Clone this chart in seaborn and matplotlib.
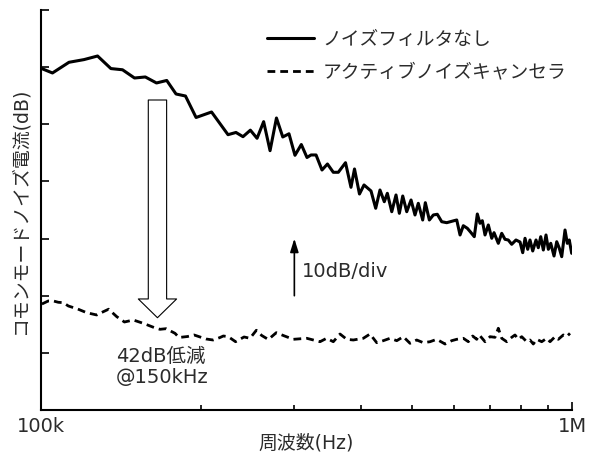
import numpy as np
import pandas as pd
import matplotlib
matplotlib.use("Agg")
import matplotlib.pyplot as plt
from matplotlib.ticker import NullFormatter, NullLocator
import seaborn as sns

# Common-mode noise current spectrum, 100 kHz - 1 MHz (frequency in kHz, level in dB)
freq_nofilter = [
    100.0, 105.1, 112.9, 120.5, 127.8, 135.4, 142.4, 150.0, 157.2, 165.0,
    172.5, 179.6, 187.1, 195.9, 209.5, 225.0, 232.9, 240.1, 247.9, 255.2,
    262.6, 270.0, 277.6, 285.3, 293.1, 300.8, 309.2, 316.9, 322.5, 329.6,
    338.2, 346.3, 355.2, 363.0, 374.5, 383.5, 389.4, 397.9, 405.8, 418.3,
    426.9, 434.9, 443.1, 449.0, 457.7, 466.2, 473.0, 480.0, 488.4, 497.6,
    506.2, 513.5, 523.4, 529.4, 538.7, 548.1, 557.6, 568.4, 580.8, 599.6,
    606.6, 615.4, 624.2, 635.1, 644.6, 654.6, 663.3, 671.0, 677.8, 685.8,
    695.7, 706.1, 713.1, 726.5, 737.3, 747.9, 758.6, 769.9, 784.3, 798.2,
    807.6, 815.7, 825.3, 833.5, 843.4, 855.5, 864.0, 873.2, 883.1, 893.4,
    902.5, 911.9, 925.0, 935.9, 946.5, 956.4, 970.2, 979.8, 988.3, 998.6,
]
level_nofilter = [
    59.80, 58.98, 60.85, 61.32, 61.95, 59.75, 59.54, 58.10, 58.28, 57.23,
    57.67, 55.30, 54.95, 51.19, 52.15, 48.18, 48.57, 47.83, 48.97, 47.55,
    50.46, 45.38, 51.10, 47.78, 48.34, 44.57, 46.46, 44.19, 44.63, 44.63,
    42.00, 43.05, 41.60, 41.60, 43.28, 38.97, 42.18, 37.80, 39.38, 38.33,
    35.30, 38.50, 36.45, 37.92, 34.70, 37.63, 34.42, 37.45, 34.70, 36.75,
    34.13, 36.17, 33.25, 36.28, 33.25, 34.13, 34.25, 32.95, 32.78, 33.13,
    33.25, 30.63, 32.25, 31.80, 31.10, 30.33, 34.30, 32.67, 33.13, 30.63,
    32.38, 30.05, 31.03, 29.17, 30.92, 29.87, 29.75, 29.00, 29.75, 29.40,
    27.53, 30.05, 28.12, 29.75, 27.83, 29.75, 28.40, 30.33, 28.00, 30.63,
    28.12, 29.17, 26.95, 29.45, 28.30, 26.83, 31.50, 29.17, 29.75, 27.42,
]

freq_canceller = [
    100.4, 103.2, 105.5, 107.8, 110.2, 112.6, 117.2, 121.9, 127.3, 131.0,
    134.1, 138.9, 143.6, 149.2, 155.8, 163.2, 167.5, 172.0, 178.8, 181.9,
    188.8, 194.2, 204.5, 210.9, 217.4, 220.5, 225.3, 232.5, 241.2, 247.5,
    254.4, 260.4, 268.0, 277.4, 286.8, 298.6, 316.5, 335.3, 345.1, 355.2,
    365.7, 376.5, 387.4, 404.6, 416.5, 422.5, 428.8, 441.2, 454.3, 467.7,
    481.2, 495.4, 510.0, 524.8, 540.3, 556.2, 576.6, 593.5, 606.6, 624.2,
    637.9, 650.1, 661.5, 669.0, 685.8, 700.9, 716.1, 726.5, 737.3, 753.5,
    769.9, 781.0, 792.4, 804.1, 821.7, 833.5, 845.5, 858.1, 876.9, 896.3,
    909.2, 929.0, 942.3, 962.9, 977.2, 991.3,
]
level_canceller = [
    18.55, 19.08, 19.08, 18.85, 18.78, 18.20, 17.68, 17.03, 16.63, 17.20,
    17.64, 16.33, 15.40, 15.75, 15.17, 14.44, 14.12, 14.23, 13.42, 12.69,
    12.86, 13.13, 12.43, 12.25, 12.69, 12.95, 12.83, 11.95, 12.78, 12.55,
    13.95, 13.04, 12.34, 13.53, 12.99, 12.37, 12.55, 11.95, 12.55, 11.95,
    13.30, 12.37, 12.25, 12.55, 13.30, 12.55, 11.78, 12.13, 12.55, 12.13,
    12.83, 11.67, 12.25, 11.78, 11.95, 12.37, 11.55, 12.13, 12.37, 12.55,
    11.95, 12.95, 12.37, 13.13, 11.95, 12.83, 12.72, 14.30, 12.55, 11.95,
    12.72, 13.13, 12.37, 12.83, 11.95, 12.25, 11.55, 12.37, 11.95, 12.55,
    11.95, 12.83, 12.37, 13.13, 12.83, 13.42,
]

series_labels = ["ノイズフィルタなし", "アクティブノイズキャンセラ"]
xtick_values = [100e3, 1e6]
xtick_labels = ["100k", "1M"]
ytick_values = [10, 20, 30, 40, 50, 60, 70]

# Reduction marker (hollow arrow) and scale marker
reduction_freq = 165.7e3
reduction_from, reduction_to = 54.25, 16.15
scale_freq = 300e3
scale_from, scale_to = 20.0, 30.0

sns.set_theme(style="ticks")
plt.rcParams["font.family"] = ["DejaVu Sans", "Noto Sans CJK JP"]
plt.rcParams["axes.unicode_minus"] = False

TEXT = "#2b2b2b"

df_nf = pd.DataFrame({"freq": np.array(freq_nofilter) * 1e3, "level": level_nofilter})
df_ac = pd.DataFrame({"freq": np.array(freq_canceller) * 1e3, "level": level_canceller})

fig = plt.figure(figsize=(5.89, 4.55), dpi=100)
ax = fig.add_axes([41 / 589, 45 / 455, 531 / 589, 400 / 455])

sns.lineplot(data=df_nf, x="freq", y="level", ax=ax, color="black", lw=2.2,
             estimator=None, sort=False, errorbar=None, label=series_labels[0])
sns.lineplot(data=df_ac, x="freq", y="level", ax=ax, color="black", lw=2.0,
             estimator=None, sort=False, errorbar=None, label=series_labels[1])
ax.lines[1].set_dashes([2.8, 1.8])

ax.set_xscale("log")
ax.set_xlim(100e3, 1e6)
ax.set_ylim(0, 70)

ax.set_xticks(xtick_values)
ax.set_xticklabels(xtick_labels)
ax.set_xticks([k * 1e5 for k in range(2, 10)], minor=True)
ax.xaxis.set_minor_formatter(NullFormatter())
ax.set_yticks(ytick_values)
ax.set_yticklabels([])
ax.yaxis.set_minor_locator(NullLocator())

ax.tick_params(axis="both", which="major", direction="in", length=6, width=1.2,
               color="black", labelsize=14, labelcolor=TEXT, pad=5)
ax.tick_params(axis="x", which="minor", direction="in", length=3.5, width=1.2, color="black")

sns.despine(ax=ax)
for side in ("left", "bottom"):
    ax.spines[side].set_linewidth(1.5)
    ax.spines[side].set_color("black")

ax.set_xlabel("周波数(Hz)", fontsize=13.6, color=TEXT)
ax.xaxis.set_label_coords(0.5, -0.082)
ax.xaxis.label.set_va("center")
ax.set_ylabel("コモンモードノイズ電流(dB)", fontsize=13.6, color=TEXT)
ax.yaxis.set_label_coords(-0.04, 0.5)
ax.yaxis.label.set_va("center")

leg = ax.legend(loc="upper left", bbox_to_anchor=(0.425, 0.95), frameon=False,
                fontsize=13.5, handlelength=2.55, handletextpad=0.42,
                labelspacing=0.72, borderpad=0, borderaxespad=0)
for t in leg.get_texts():
    t.set_color(TEXT)

# Hollow arrow showing the reduction
ax.annotate("", xy=(reduction_freq, reduction_to), xytext=(reduction_freq, reduction_from),
            arrowprops=dict(arrowstyle="simple,head_length=1.35,head_width=2.76,tail_width=1.32",
                            mutation_scale=10, fc="white", ec="black", lw=0.8,
                            shrinkA=0, shrinkB=0))
ax.text(138.3e3, 9.33, "42dB低減", fontsize=14, color=TEXT, ha="left", va="center")
ax.text(138.3e3, 5.6, "@150kHz", fontsize=14, color=TEXT, ha="left", va="center")

# 10 dB scale arrow
ax.annotate("", xy=(scale_freq, scale_to), xytext=(scale_freq, scale_from),
            arrowprops=dict(arrowstyle="-|>,head_length=0.8,head_width=0.25",
                            mutation_scale=10, color="black", lw=1.2,
                            shrinkA=0, shrinkB=0))
ax.text(309.7e3, 24.2, "10dB/div", fontsize=14, color=TEXT, ha="left", va="center")

fig.savefig("out.png", dpi=100)
